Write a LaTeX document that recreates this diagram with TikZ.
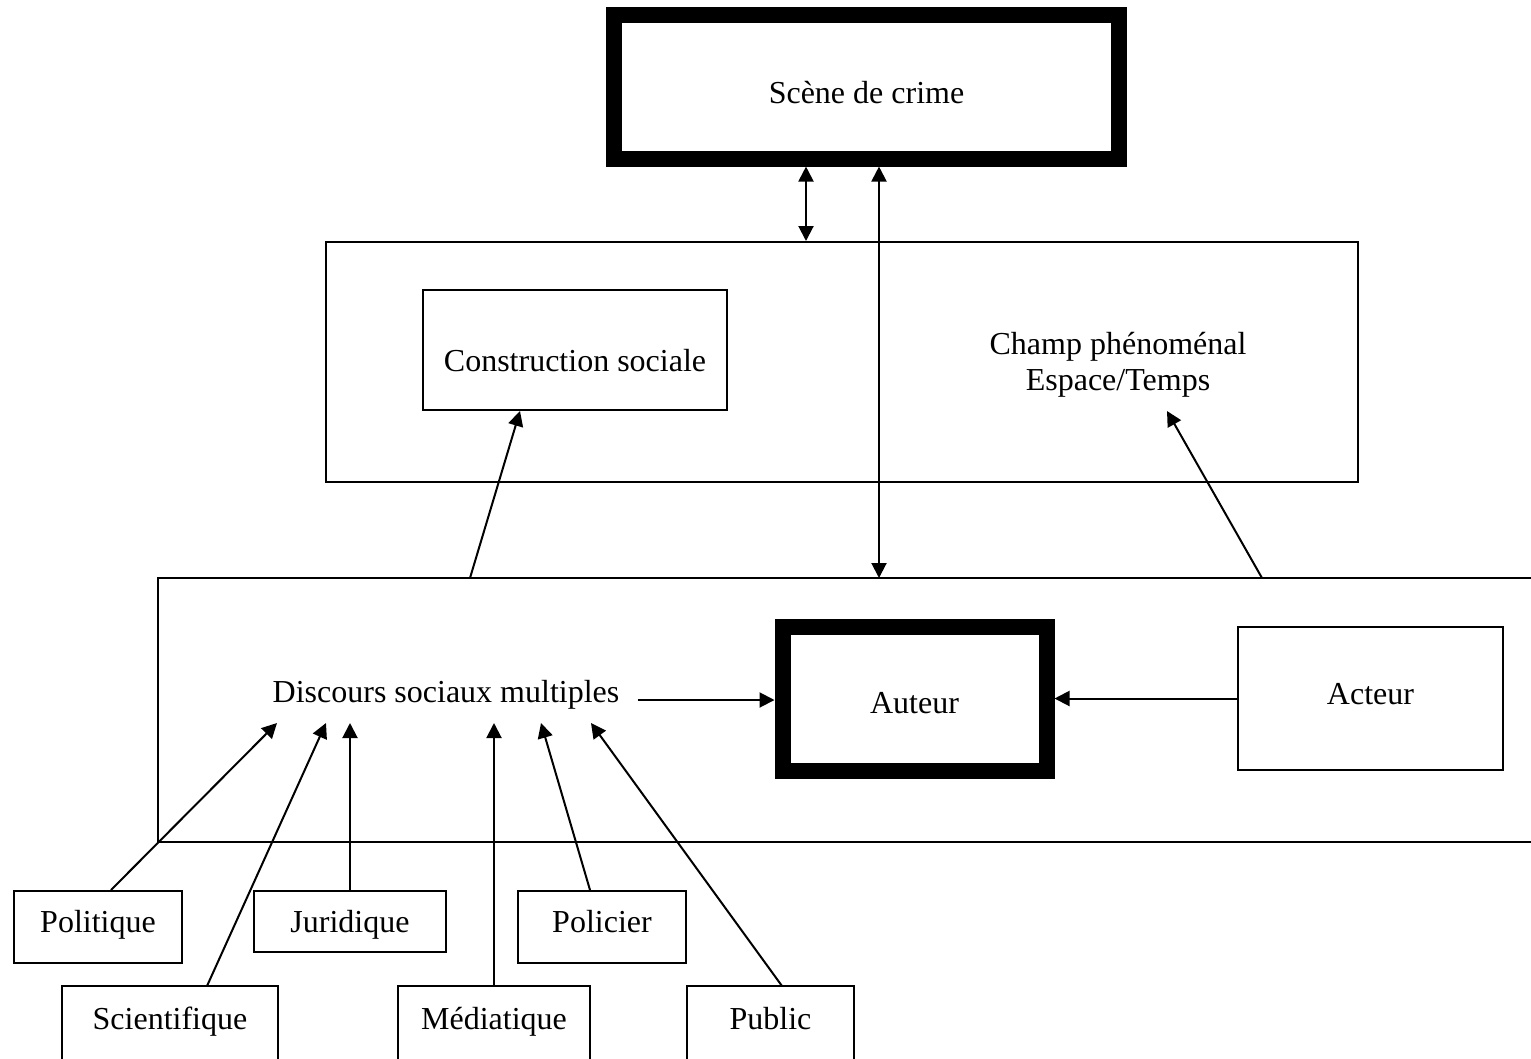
\documentclass[tikz,border=0pt]{standalone}
\usepackage{fontspec}
\setmainfont{Liberation Serif}
\usetikzlibrary{arrows.meta}
\begin{document}
\begin{tikzpicture}[x=1pt,y=-1pt,
  font=\fontsize{32}{38}\selectfont,
  thinline/.style={line width=2pt},
  txt/.style={text height=22pt, text depth=7pt},
  box/.style={draw, line width=2pt, inner sep=0pt, txt},
  heavy/.style={draw, line width=16pt, inner sep=0pt, txt},
  plain/.style={inner sep=0pt, outer sep=0pt},
  arr/.style={line width=2pt, -{Triangle[length=15pt,width=15pt]}},
  dbl/.style={line width=2pt, {Triangle[length=15pt,width=15pt]}-{Triangle[length=15pt,width=15pt]}}]
\useasboundingbox (0,0) rectangle (1531,1058);

% top
\node[heavy, minimum width=505pt, minimum height=143.5pt] (scene) at (866.5,86.8) {\raisebox{-9pt}{Scène de crime}};

% middle
\node[box, minimum width=1032pt, minimum height=240pt] (mid) at (842,362) {};
\node[box, minimum width=304pt, minimum height=120pt] (cons) at (575,350) {\raisebox{-14pt}{Construction sociale}};
\node[plain, align=center, font=\fontsize{32}{36}\selectfont] (champ) at (1118,365) {Champ phénoménal\\Espace/Temps};

% bottom region (open on the right)
\node[plain, minimum width=1400pt, minimum height=264pt] (big) at (858,710) {};
\draw[thinline] (big.north east) -- (big.north west) -- (big.south west) -- (big.south east);

\node[plain, txt] (disc) at (446,695) {Discours sociaux multiples};
\node[heavy, minimum width=264pt, minimum height=144pt] (aut) at (914.5,698.5) {\raisebox{-7pt}{Auteur}};
\node[box, minimum width=265pt, minimum height=143pt] (act) at (1370.5,698.5) {\raisebox{2pt}{Acteur}};

% small boxes, first row
\node[box, minimum width=168pt, minimum height=72pt] (pol) at (98,927) {\raisebox{2pt}{Politique}};
\node[box, minimum width=192pt, minimum height=61pt] (jur) at (350,921.5) {\raisebox{-3pt}{Juridique}};
\node[box, minimum width=168pt, minimum height=72pt] (polc) at (602,927) {\raisebox{2pt}{Policier}};

% small boxes, second row (cut by the page bottom)
\node[plain, txt, minimum width=216pt, minimum height=72pt] (sci) at (170,1022) {Scientifique};
\node[plain, txt, minimum width=192pt, minimum height=72pt] (med) at (494,1022) {Médiatique};
\node[plain, txt, minimum width=167pt, minimum height=72pt] (pub) at (770.5,1022) {Public};
\foreach \n in {sci,med,pub}{
  \draw[thinline] ([yshift=-40pt]\n.south west) |- (\n.north east) -- ([yshift=-40pt]\n.south east);
}

% end points on the discourse line
\coordinate (tpol) at (277,723);
\coordinate (tsci) at (326,723);
\coordinate (tjur) at (350,723);
\coordinate (tmed) at (494,723);
\coordinate (tpolc) at (541,723);
\coordinate (tpub) at (591,723);
\coordinate (dstart) at (637.5,700);
\coordinate (tchamp) at (1167,411);

% connectors
\draw[dbl] ([xshift=-60.5pt]scene.south) -- ([xshift=-36pt]mid.north);
\draw[dbl] ([xshift=12.5pt]scene.south) -- ([xshift=21pt]big.north);
\draw[arr] ([xshift=-388pt]big.north) -- ([xshift=-55pt]cons.south);
\draw[arr] ([xshift=404pt]big.north) -- (tchamp);
\draw[arr] (dstart) -- (dstart -| aut.west);
\draw[arr] (act.west) -- (aut.east);

\draw[arr] ([xshift=13pt]pol.north) -- (tpol);
\draw[arr] ([xshift=37pt]sci.north) -- (tsci);
\draw[arr] (jur.north) -- (tjur);
\draw[arr] (med.north) -- (tmed);
\draw[arr] ([xshift=-12pt]polc.north) -- (tpolc);
\draw[arr] ([xshift=11.5pt]pub.north) -- (tpub);
\end{tikzpicture}
\end{document}
